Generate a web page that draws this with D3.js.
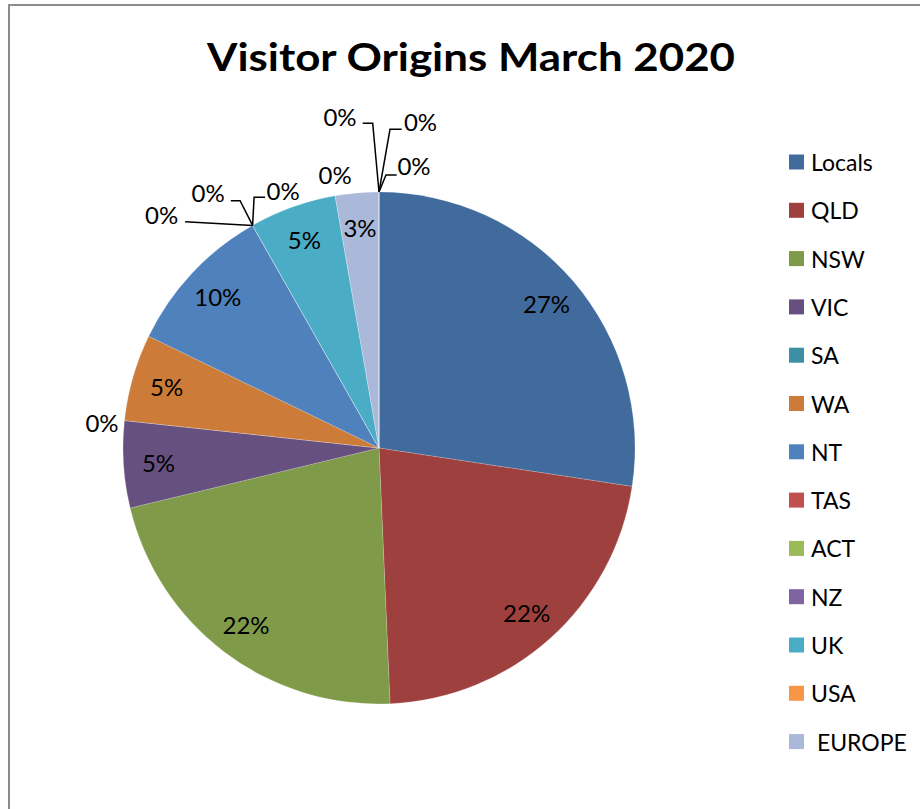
<!DOCTYPE html>
<html>
<head>
<meta charset="utf-8">
<script src="https://cdn.jsdelivr.net/npm/d3@7"></script>
<style>
  html, body { margin: 0; padding: 0; background: #fff; }
  svg { display: block; }
  text { font-family: Lato, "Open Sans", sans-serif; fill: #000; }
</style>
</head>
<body>
<svg id="chart" width="920" height="809"></svg>
<script>
// ---- data ----
const title = "Visitor Origins March 2020";
const categories = ["Locals","QLD","NSW","VIC","SA","WA","NT","TAS","ACT","NZ","UK","USA"," EUROPE","Other 1","Other 2","Other 3"];
const visitors   = [20, 16, 16, 4, 0, 4, 7, 0, 0, 0, 4, 0, 2, 0, 0, 0];
const colors = ["#416B9D","#9E413E","#7F9A48","#66507F","#3C8FA4","#CC7B38",
                "#4F81BD","#C0504D","#9BBB59","#8064A2","#4BACC6","#F79646",
                "#AAB9D9","#D99795","#C3D69B","#B3A2C7"];
const legendCount = 13;

// ---- layout (not data) ----
const W = 920, H = 809;
const cx = 379, cy = 448, R = 256, labelR = 221;
// offsets of zero-value labels (relative to slice anchor on the rim) and leader polylines
const zeroLayout = {
  4:  {dx: -22.5, dy: 1.7},
  7:  {dx: -91,   dy: -11,   leader: [[-67.5, -3.7], [0, 0]]},
  8:  {dx: -44.5, dy: -33,   leader: [[-21.8, -24.7], [-12.5, -24.7], [0, 0]]},
  9:  {dx: 30.5,  dy: -35.4, leader: [[12.5, -28.1], [1.5, -28.1], [0, 0]]},
  11: {dx: 0,     dy: -21},
  13: {dx: -39,   dy: -75.5, leader: [[-16.3, -68.7], [-6.3, -68.7], [0, 0]]},
  14: {dx: 41.5,  dy: -70.5, leader: [[22.7, -62.7], [11, -62.7], [0, 0]]},
  15: {dx: 35,    dy: -27,   leader: [[17.7, -17], [7, -17], [0, 0]]}
};

const svg = d3.select("#chart");

// chart border (cropped at right & bottom)
svg.append("path")
  .attr("d", `M9,${H + 5} L9,5 L${W + 5},5`)
  .attr("fill", "none").attr("stroke", "#8c8c8c").attr("stroke-width", 2);

// title
svg.append("text")
  .attr("x", 471).attr("y", 71)
  .attr("text-anchor", "middle")
  .attr("font-size", 39).attr("font-weight", "bold")
  .attr("textLength", 528).attr("lengthAdjust", "spacingAndGlyphs")
  .text(title);

const total = d3.sum(visitors);
const fmt = d3.format(".0%");
const pie = d3.pie().sort(null).value(d => d)(visitors);
const arc = d3.arc().innerRadius(0).outerRadius(R);

const g = svg.append("g").attr("transform", `translate(${cx},${cy})`);

g.selectAll("path.slice")
  .data(pie)
  .enter().append("path")
  .attr("class", "slice")
  .attr("d", arc)
  .attr("fill", (d, i) => colors[i])
  .attr("stroke", "#ffffff").attr("stroke-width", 0.5).attr("stroke-opacity", 0.35);

// labels
pie.forEach((d, i) => {
  const txt = fmt(d.value / total);
  if (d.value > 0) {
    const a = (d.startAngle + d.endAngle) / 2;
    g.append("text")
      .attr("x", labelR * Math.sin(a))
      .attr("y", -labelR * Math.cos(a))
      .attr("text-anchor", "middle")
      .attr("dominant-baseline", "central")
      .attr("font-size", 24)
      .text(txt);
  } else {
    const a = d.startAngle;
    const ax = R * Math.sin(a), ay = -R * Math.cos(a);
    const L = zeroLayout[i];
    if (L.leader) {
      g.append("polyline")
        .attr("points", L.leader.map(p => [ax + p[0], ay + p[1]].join(",")).join(" "))
        .attr("fill", "none").attr("stroke", "#000").attr("stroke-width", 1.5);
    }
    g.append("text")
      .attr("x", ax + L.dx)
      .attr("y", ay + L.dy)
      .attr("text-anchor", "middle")
      .attr("dominant-baseline", "central")
      .attr("font-size", 24)
      .text(txt);
  }
});

// legend
const legY0 = 162, legStep = 48.3;
const leg = svg.append("g");
categories.slice(0, legendCount).forEach((c, i) => {
  const y = legY0 + i * legStep;
  leg.append("rect")
    .attr("x", 789).attr("y", y - 7.5).attr("width", 15).attr("height", 15)
    .attr("fill", colors[i]);
  leg.append("text")
    .attr("x", 811).attr("y", y)
    .attr("dominant-baseline", "central")
    .attr("font-size", 23)
    .attr("xml:space", "preserve")
    .style("white-space", "pre")
    .text(c);
});
</script>
</body>
</html>
